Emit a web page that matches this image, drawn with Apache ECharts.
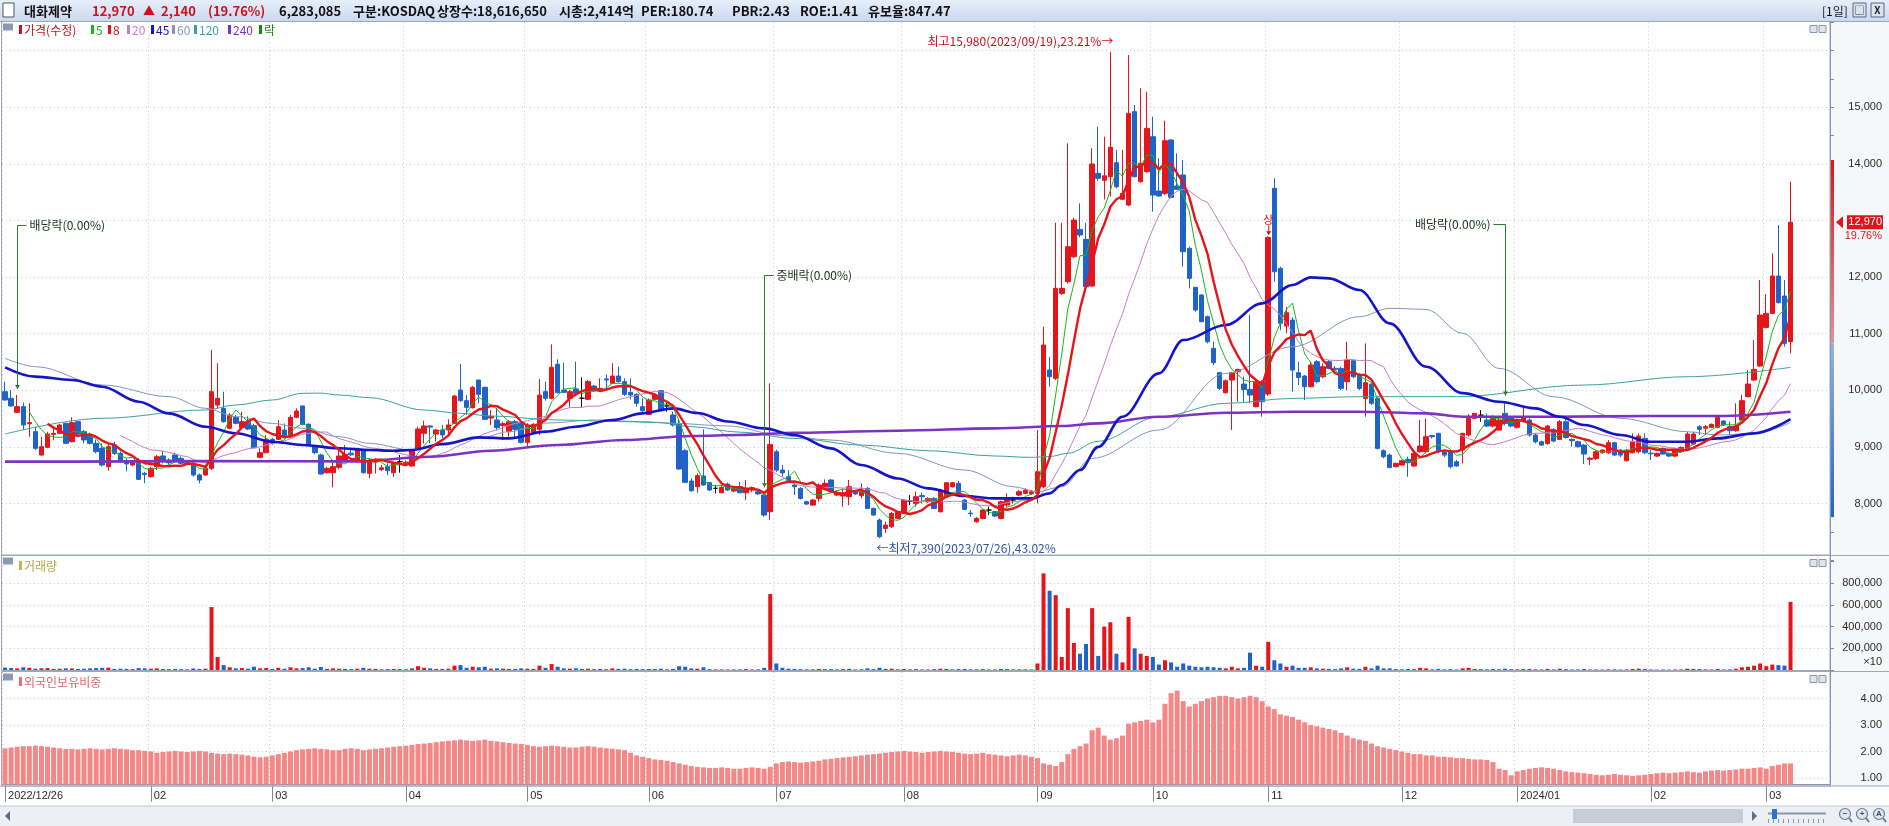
<!DOCTYPE html>
<html><head><meta charset="utf-8"><title>대화제약</title>
<script src="https://cdn.jsdelivr.net/npm/echarts@6/dist/echarts.min.js"></script>
<style>html,body{margin:0;padding:0;background:#fff;overflow:hidden}#chart{width:1889px;height:826px}</style>
</head><body><div id="chart"></div>
<script>
// ---------------- DATA ----------------
const startDate = '2022/12/26';
const holidays = ['2022/12/30','2023/01/23','2023/01/24','2023/03/01','2023/05/01','2023/05/05','2023/05/29','2023/06/06','2023/08/15','2023/09/28','2023/09/29','2023/10/02','2023/10/03','2023/10/09','2023/12/25','2023/12/29','2024/01/01','2024/02/09','2024/02/12'];
const padSlots = 6;

const openP = [
9976,9858,9610,9711,9410,9269,8857,8993,9220,9240,
9416,9092,9446,9269,9200,9063,8975,8651,9033,8886,
8739,8680,8739,8533,8474,8651,8840,8768,8857,8798,
8700,8710,8504,8504,8621,9740,9681,9328,9522,9340,
9446,9375,8816,8898,9134,9134,9298,9180,9522,9723,
9399,9004,8857,8545,8545,8640,8768,8890,8740,8945,
8533,8730,8600,8651,8545,8739,8710,8663,8975,9240,
9370,9228,9298,9298,9416,10005,9817,9693,10182,10052,
9510,9475,9380,9269,9446,9428,9080,9257,9310,9976,
9858,10459,10005,9858,10023,9860,9840,10076,9990,10200,
10123,10252,10153,9964,9929,9711,9575,9840,9993,9723,
9564,9405,8933,8398,8297,8486,8368,8268,8191,8344,
8220,8297,8191,8240,8208,8149,7855,8915,8591,8473,
8326,8267,8032,7972,8090,8267,8415,8149,8132,8120,
8208,8138,8267,7913,7707,7560,7590,7737,7855,8040,
8002,8140,8032,8090,7855,8120,8297,8356,8061,7830,
7678,7737,7884,7855,7737,7972,8061,8149,8179,8170,
8179,8297,10358,10211,11713,11919,12360,12843,12667,11842,
13833,13710,13774,14021,13374,13273,14923,13686,13862,14481,
13521,13480,14422,13610,13804,12508,11819,11683,11300,10741,
10311,9957,10181,10328,10110,10016,9710,10152,9934,13568,
12154,11136,11241,10311,10252,10063,10505,10240,10505,10390,
10387,10152,10523,10270,9857,10110,9857,8932,8856,8650,
8680,8780,8662,8915,8915,9200,9239,8915,8915,8738,
8944,9210,9504,9560,9474,9368,9298,9592,9520,9345,
9445,9474,9210,9091,9062,9310,9133,9445,9133,9091,
9032,8780,8797,8897,8897,9074,8944,8756,8897,8915,
9150,8890,8838,8974,8885,8838,8915,8956,9050,9356,
9330,9345,9345,9457,9356,9286,9474,9887,10181,10429,
11110,11359,12019,11665,10858];

const closeP = [
9829,9723,9711,9387,9430,8975,9004,9228,9240,9387,
9063,9428,9228,9122,9063,8916,8680,9004,8886,8739,
8700,8739,8427,8510,8621,8827,8740,8720,8768,8710,
8720,8504,8415,8621,9976,9858,9446,9564,9416,9446,
9316,8986,8898,9134,9063,9357,9180,9522,9634,9399,
9033,8898,8521,8621,8651,8840,8866,8860,8945,8545,
8739,8760,8630,8580,8710,8739,8730,8945,9316,9370,
9350,9298,9210,9387,9899,9817,9699,10052,9929,9487,
9540,9340,9410,9446,9310,9080,9387,9399,9917,9858,
10406,9958,9964,9976,9946,9860,10153,9990,10035,10182,
10252,10153,9929,9917,9770,9640,9829,9917,9652,9723,
9387,8610,8374,8226,8492,8327,8238,8268,8285,8238,
8270,8190,8267,8280,8170,7796,9044,8591,8540,8385,
8297,8090,7990,8061,8326,8356,8208,8190,8179,8297,
8170,8208,7913,7796,7413,7619,7825,7855,8061,8040,
8120,8120,8090,7913,8238,8367,8367,8179,7896,7820,
7737,7884,7884,7778,8032,8090,8061,8208,8238,8208,
8562,10800,10240,11801,11801,12537,13008,12743,11830,13998,
13745,13790,14292,13597,13480,14893,13774,14010,14628,13450,
13433,14410,13409,13550,12449,11978,11418,11212,10858,10488,
10034,10169,10311,10370,10016,9916,10152,9798,12702,12095,
11183,11371,10358,10228,10063,10446,10152,10417,10387,10370,
10034,10535,10240,10034,10134,9769,8974,8826,8638,8709,
8756,8720,8885,9015,9180,9180,8915,8856,8650,8662,
9239,9504,9592,9560,9368,9520,9474,9415,9368,9474,
9533,9210,9091,9032,9368,9103,9445,9168,9110,9003,
8874,8800,8915,8944,9074,8856,8856,8944,9091,9192,
8897,8880,8885,8874,8838,8956,8991,9227,9227,9310,
9356,9398,9521,9386,9286,9368,9816,10111,10370,11330,
11359,12019,11548,10830,12970];

const lowP = [
9817,9711,9605,9299,9180,8945,8845,8975,9120,9230,
9050,9080,9210,9063,9040,8886,8651,8580,8857,8720,
8570,8660,8415,8360,8460,8592,8710,8690,8720,8690,
8680,8474,8356,8490,8592,9682,9428,9310,9400,9330,
9300,8975,8800,8886,9040,9122,9150,9170,9505,9380,
9020,8870,8510,8530,8285,8603,8740,8840,8720,8530,
8445,8530,8570,8500,8470,8545,8690,8651,8957,9063,
9063,9092,9150,9210,9405,9800,9564,9681,9770,9475,
9387,9298,9122,9180,9150,9060,9004,9240,9210,9817,
9840,9946,9950,9700,9917,9700,9829,9976,9976,10005,
10111,10135,9900,9840,9711,9605,9564,9829,9640,9620,
9357,8592,8360,8209,8191,8315,8220,8180,8180,8220,
8200,8180,8061,8200,8150,7766,7707,8560,8473,8380,
8149,8070,7970,7960,8032,8238,8190,8130,7943,7972,
8150,8090,7900,7780,7390,7480,7570,7720,7840,7972,
7943,8002,8010,7900,7840,8100,8280,8160,7880,7766,
7660,7720,7796,7760,7720,7943,8000,8130,8160,8150,
8002,8267,10063,10180,11683,11889,12340,12700,11801,11830,
13700,13370,13420,13568,13360,13256,13762,13670,13845,13156,
13420,13450,13390,13540,12184,11801,11389,11200,10830,10446,
10004,9940,9298,9798,9780,9770,9698,9533,9900,11919,
11065,11006,9975,10093,9828,10051,10122,10211,10370,10328,
10004,10004,10211,10004,9533,9740,8956,8797,8620,8640,
8670,8473,8650,8897,8885,9150,8885,8820,8620,8650,
8709,9180,9490,9445,9356,9345,9280,9380,9345,9327,
9430,9180,9062,9015,9040,9080,9121,9150,9003,8990,
8697,8680,8768,8880,8880,8838,8820,8738,8885,8885,
8874,8768,8820,8860,8820,8820,8900,8944,9030,9210,
9210,9330,9330,9370,9210,9268,9462,9875,10170,10417,
11095,11347,11536,10770,10652];

const highP = [
10153,10005,9917,9782,9770,9357,9180,9269,9370,9400,
9430,9522,9450,9300,9250,9130,9063,9063,9092,8920,
8800,8760,8800,8560,8651,8857,8920,8800,8900,8830,
8740,8768,8533,8660,10712,10477,9976,9593,9560,9620,
9540,9405,8975,9210,9160,9475,9416,9564,9681,9730,
9420,9040,8880,8650,8768,8945,9033,8960,8975,8960,
8798,8800,8680,8710,8740,8857,8760,8960,9357,9463,
9387,9316,9387,9487,9917,10465,9917,10076,10182,10064,
9652,9682,9446,9475,9475,9440,9416,9420,10200,10153,
10812,10547,10490,10005,10506,10229,10182,10094,10210,10280,
10477,10417,10211,10211,9946,9858,9858,9946,10005,9782,
9622,9475,8960,8445,8533,9310,8380,8327,8327,8370,
8297,8380,8415,8300,8240,8179,10122,8950,8680,8591,
8356,8290,8050,8080,8356,8426,8430,8230,8267,8415,
8240,8356,8290,7930,7737,7678,7850,7870,8080,8149,
8208,8190,8110,8110,8260,8380,8380,8400,8080,7884,
7760,7900,7943,7870,8050,8179,8120,8240,8270,8240,
9298,11124,10593,12961,12961,14363,13050,13303,12961,14275,
14658,14481,15980,14245,14245,15924,15040,15335,15276,14834,
14098,14764,14434,14186,14069,12537,11830,11700,11320,10858,
10328,10190,10328,10380,10240,11330,10181,10181,12720,13745,
12184,11477,11289,10505,10270,10505,10535,10476,10535,10429,
10417,10858,10535,10299,10829,10134,9887,8956,8885,8720,
8770,8827,8897,9474,9504,9210,9250,8950,8930,8770,
9250,9580,9600,9650,9592,9563,9500,9800,9545,9504,
9710,9504,9239,9110,9390,9330,9474,9533,9150,9110,
9050,8827,8944,8960,9121,9091,8960,8960,9239,9239,
9239,8944,8900,8990,8900,8970,9010,9268,9268,9386,
9386,9415,9545,9470,9445,9769,9916,10358,10888,11948,
11701,12419,12920,11948,13686];

// volume, in the panel's own units (axis labelled x10)
const volume = [
22000,18000,15000,25000,20000,12000,15000,18000,10000,12000,
15000,14000,10000,12000,15000,18000,20000,22000,10000,12000,
10000,8000,18000,15000,12000,15000,10000,8000,10000,8000,
6000,14000,10000,12000,580000,120000,45000,25000,15000,18000,
12000,30000,15000,18000,10000,20000,12000,25000,15000,18000,
25000,12000,28000,10000,15000,12000,10000,8000,12000,20000,
12000,10000,6000,8000,10000,8000,6000,15000,35000,20000,
15000,10000,10000,12000,40000,45000,20000,30000,25000,30000,
12000,15000,12000,10000,10000,15000,12000,10000,40000,20000,
55000,30000,15000,12000,15000,10000,12000,8000,10000,8000,
15000,10000,12000,8000,10000,8000,10000,8000,12000,6000,
10000,35000,30000,15000,12000,25000,8000,6000,6000,5000,
5000,6000,8000,5000,6000,20000,700000,60000,20000,12000,
10000,8000,6000,6000,10000,8000,8000,5000,8000,10000,
5000,6000,15000,8000,20000,10000,12000,6000,10000,6000,
8000,5000,5000,8000,12000,10000,6000,8000,10000,6000,
6000,8000,5000,5000,10000,8000,5000,6000,6000,5000,
60000,890000,730000,690000,120000,570000,250000,150000,240000,570000,
130000,400000,440000,150000,70000,490000,200000,150000,130000,120000,
50000,90000,70000,30000,60000,40000,30000,25000,30000,25000,
20000,15000,30000,15000,20000,160000,40000,30000,260000,90000,
60000,30000,40000,20000,20000,25000,15000,12000,10000,8000,
15000,25000,12000,10000,30000,15000,40000,15000,15000,8000,
6000,10000,8000,20000,15000,6000,10000,6000,8000,5000,
15000,20000,10000,8000,6000,8000,6000,12000,8000,6000,
8000,10000,6000,5000,10000,6000,12000,8000,5000,5000,
10000,5000,5000,4000,6000,6000,4000,5000,10000,12000,
8000,5000,4000,5000,4000,5000,5000,12000,10000,8000,
6000,5000,10000,5000,6000,12000,25000,30000,40000,60000,
35000,50000,45000,40000,628309];

// foreign ownership ratio (%)
const foreignPct = [
2.12,2.15,2.18,2.2,2.2,2.22,2.2,2.18,2.15,2.12,
2.1,2.1,2.08,2.1,2.12,2.1,2.08,2.1,2.12,2.1,
2.08,2.05,2.05,2.02,2.0,
1.95,1.98,2.0,2.02,2.0,1.98,2.0,2.02,2.0,1.95,1.92,1.9,1.92,1.9,1.88,1.85,
1.8,1.78,1.8,1.85,1.9,1.95,
2.0,2.05,2.08,2.1,2.12,2.1,2.08,2.05,2.05,2.1,2.12,2.1,2.05,2.08,2.1,2.12,2.15,2.18,2.2,2.22,2.25,2.28,
2.3,2.32,2.35,2.38,2.4,2.42,2.45,2.42,2.4,2.42,2.45,2.4,2.38,2.35,2.32,2.3,2.28,2.25,
2.2,2.18,2.2,2.22,2.2,2.18,2.15,2.15,2.18,2.2,2.18,2.15,2.12,2.1,2.08,2.05,
1.95,1.85,1.8,1.75,1.7,1.68,1.65,1.6,1.55,1.5,1.45,
1.42,1.4,1.38,1.38,1.4,1.38,1.35,1.35,1.38,1.4,1.38,1.35,1.42,
1.55,1.6,1.62,1.6,1.58,1.6,1.62,1.65,
1.7,1.72,1.75,1.78,1.8,1.82,1.85,1.88,1.9,1.92,1.95,1.98,2.0,2.02,2.0,1.98,1.95,1.98,2.0,2.02,2.0,1.98,1.95,1.92,1.9,1.92,1.95,1.9,1.88,1.85,1.82,1.85,1.88,1.85,1.8,
1.75,1.55,1.5,1.45,1.6,1.9,2.1,2.2,2.3,
2.8,2.9,2.6,2.45,2.5,2.6,
3.05,3.1,3.15,3.2,3.1,3.2,
3.8,4.2,4.3,3.9,3.7,3.8,3.9,
4.0,4.05,4.1,4.1,4.05,4.0,4.05,4.1,4.05,
3.9,3.7,3.6,3.4,3.35,3.3,3.2,3.1,
3.0,2.95,2.9,2.85,2.8,2.7,2.6,2.5,2.45,2.4,
2.3,2.2,2.15,2.1,2.05,2.0,
1.95,1.9,1.9,1.85,1.85,1.8,1.8,1.78,1.75,1.75,1.72,1.7,1.7,1.68,1.6,
1.35,1.3,1.1,1.25,1.3,
1.35,1.38,1.4,1.38,1.35,1.3,
1.25,1.22,1.2,1.18,1.15,1.12,1.1,1.12,1.15,1.12,1.1,1.08,1.1,1.12,1.15,1.18,1.2,1.18,1.2,1.22,1.25,1.22,1.2,1.25,1.28,1.3,1.28,1.3,
1.32,1.35,1.35,1.38,1.4,1.35,1.45,1.5,1.55,1.55];

// long moving averages: [candle index, value]
const ma45Pts = [[0,10406],[5,10241],[11,10182],[16,10064],[22,9799],[27,9593],[33,9357],[38,9240],[44,9092],[49,9034],[55,8975],[60,8945],[64,8933],[67,8945],[72,9051],[78,9169],[83,9151],[89,9269],[94,9357],[100,9475],[105,9593],[110,9681],[114,9600],[119,9450],[125,9327],[130,9209],[136,8974],[141,8679],[147,8443],[152,8267],[158,8132],[163,8090],[169,8090],[172,8179],[174,8326],[177,8591],[180,9000],[184,9533],[190,10299],[194,10888],[201,11153],[207,11536],[212,11860],[215,11995],[218,11978],[223,11772],[228,11183],[234,10417],[240,9950],[246,9798],[252,9681],[256,9533],[260,9386],[266,9209],[271,9091],[277,9091],[282,9150],[288,9239],[294,9490]];
const ma60Pts = [[0,10565],[5,10418],[16,10094],[27,9888],[33,9682],[38,9534],[44,9416],[49,9328],[55,9181],[60,9063],[67,8945],[72,9033],[78,9151],[83,9269],[89,9420],[97,9475],[105,9446],[110,9416],[119,9370],[128,9200],[136,9121],[147,8886],[158,8591],[166,8297],[170,8208],[174,8297],[179,8797],[190,9298],[201,10299],[212,10770],[223,11300],[228,11448],[234,11430],[240,11006],[246,10387],[255,9887],[266,9504],[277,9268],[282,9210],[288,9239],[294,9430]];
const ma120Pts = [[0,9228],[16,9505],[33,9652],[38,9740],[44,9829],[49,9946],[52,9950],[55,9917],[60,9870],[69,9652],[75,9593],[80,9546],[91,9475],[102,9446],[108,9428],[113,9357],[121,9260],[130,9150],[141,9033],[152,8933],[163,8839],[169,8815],[172,8830],[175,8886],[180,9100],[190,9533],[201,9769],[212,9857],[223,9887],[239,9887],[260,10093],[277,10240],[294,10405]];
const ma240Pts = [[0,8739],[11,8739],[33,8750],[58,8745],[70,8827],[80,8933],[91,9034],[102,9122],[113,9193],[121,9210],[130,9250],[147,9286],[163,9327],[174,9368],[180,9415],[190,9533],[201,9604],[212,9622],[223,9622],[234,9592],[240,9533],[255,9533],[271,9545],[282,9545],[294,9622]];

const maPeriods = [5, 8, 20, 45, 60, 120, 240];
const rangeBarVals = [14070, 10830, 7760];
const exDivMarks = [
  {idx: 2, label: '배당락(0.00%)', topPrice: 12920, side: 'right'},
  {idx: 125, label: '중배락(0.00%)', topPrice: 12040, side: 'right'},
  {idx: 247, label: '배당락(0.00%)', topPrice: 12940, side: 'left'}
];
const limitUpIdx = 208;
const headerStats = {name: '대화제약', volumeText: '6,283,085', market: '구분:KOSDAQ', shares: '상장수:18,616,650', cap: '시총:2,414억', per: 'PER:180.74', pbr: 'PBR:2.43', roe: 'ROE:1.41', reserve: '유보율:847.47'};
const priceTicks = [8000, 9000, 10000, 11000, 12000, 13000, 14000, 15000];
const volTicks = [200000, 400000, 600000, 800000];
const pctTicks = [1, 2, 3, 4];

// ---------------- BUILD ----------------
const N = openP.length;
function pad2(n){return n<10?'0'+n:''+n;}
function fmtD(d){return d.getUTCFullYear()+'/'+pad2(d.getUTCMonth()+1)+'/'+pad2(d.getUTCDate());}
const dates = (function(){
  const out=[]; const p=startDate.split('/').map(Number);
  let d=new Date(Date.UTC(p[0],p[1]-1,p[2]));
  while(out.length<N){ const wd=d.getUTCDay(); const s=fmtD(d);
    if(wd!==0&&wd!==6&&holidays.indexOf(s)<0) out.push(s);
    d=new Date(d.getTime()+86400000);}
  return out;})();
const categories = dates.concat(new Array(padSlots).fill(''));
const labelAt = {}; let lastLab=-100;
for(let i=0;i<N;i++){
  const m=dates[i].slice(5,7);
  const start = i===0 || dates[i-1].slice(5,7)!==m;
  if(start && (i===0 || i-lastLab>10)){
    labelAt[i] = i===0 ? dates[i] : (m==='01' ? dates[i].slice(0,7) : m); lastLab=i;
  }
}
const isLab = (idx)=> labelAt[idx]!==undefined;

const UP='#e5151c', DN='#1f63c9';
const candleData = openP.map((o,i)=>{
  const it={value:[o,closeP[i],lowP[i],highP[i]]};
  if(o===closeP[i]) it.itemStyle={color:'#111',color0:'#111',borderColor:'#111',borderColor0:'#111'};
  return it;
});
function sma(n){const out=[];let s=0;for(let i=0;i<N;i++){s+=closeP[i];if(i>=n)s-=closeP[i-n];out.push(i>=n-1?Math.round(s/n):null);}return out;}
function sparse(pts){const a=new Array(N).fill(null);pts.forEach(([i,v])=>{a[Math.min(i,N-1)]=v;});return a;}
const volData = volume.map((v,i)=>({value:v,itemStyle:{color: closeP[i]>=openP[i]?UP:DN}}));

const maColors = {5:'#18b818',8:'#e5151c',20:'#c47ccc',45:'#1414c8',60:'#8494bc',120:'#3aa39b',240:'#7d32c4'};
function maSeries(name,data,color,width,smooth){
  return {name,type:'line',xAxisIndex:0,yAxisIndex:0,data,symbol:'none',showSymbol:false,connectNulls:true,
    smooth:smooth,smoothMonotone:'x',lineStyle:{color,width},z:3,silent:true,animation:false};
}
const GRIDC='#c4c9d2';
const DOT=[1,3];
const gridLineMain = Array.from({length:20},(_,k)=>(k%2===0&&k>0)?GRIDC:'rgba(0,0,0,0)');
const gridLineVol = [0,200000,400000,600000,800000,1000000].map(v=>volTicks.indexOf(v)>=0?GRIDC:'rgba(0,0,0,0)');
const gridLinePct = Array.from({length:18},(_,k)=>{const v=0.75+0.25*k;return pctTicks.some(t=>Math.abs(t-v)<1e-6)?GRIDC:'rgba(0,0,0,0)';});
const numFmt = v=>Math.round(v).toLocaleString('en-US');
const axisFont = {color:'#2a2a2a',fontSize:11,fontFamily:'Liberation Sans, Arial, sans-serif'};

const xBase = (gi,showLab)=>({
  type:'category',gridIndex:gi,data:categories,boundaryGap:true,
  axisLine:{show:showLab,lineStyle:{color:'#8a96aa'}},
  axisTick:{show:showLab,alignWithLabel:true,interval:(i)=>isLab(i),length:17,lineStyle:{color:'#7d889c'}},
  axisLabel:{show:showLab,interval:(i)=>isLab(i),formatter:(v,i)=>labelAt[i]||'',align:'left',margin:6,padding:[0,0,0,3],...axisFont},
  splitLine:{show:true,interval:(i)=>isLab(i),lineStyle:{color:GRIDC,type:DOT}}
});

const chart = echarts.init(document.getElementById('chart'),null,{renderer:'canvas',width:1889,height:826});
chart.setOption({
  animation:false,
  backgroundColor:'#ffffff',
  grid:[
    {left:2,right:59,top:22.4,height:537.7,outerBoundsMode:'none'},
    {left:2,right:59,top:561.5,height:108.5,outerBoundsMode:'none'},
    {left:2,right:59,top:672,height:112.6,outerBoundsMode:'none'}
  ],
  xAxis:[xBase(0,false),xBase(1,false),xBase(2,true)],
  yAxis:[
    {type:'value',gridIndex:0,position:'right',min:7000,max:16500,interval:500,scale:true,
     axisLine:{show:false},axisTick:{show:true,length:4,lineStyle:{color:'#7d889c'}},
     axisLabel:{align:'right',margin:52,formatter:v=>priceTicks.indexOf(v)>=0?numFmt(v):'',...axisFont},
     splitLine:{show:true,lineStyle:{color:gridLineMain,type:DOT}}},
    {type:'value',gridIndex:1,position:'right',min:0,max:1000000,interval:200000,
     axisLine:{show:false},axisTick:{show:true,length:4,lineStyle:{color:'#7d889c'}},
     axisLabel:{align:'right',margin:52,formatter:v=>volTicks.indexOf(v)>=0?numFmt(v):'',...axisFont},
     splitLine:{show:true,lineStyle:{color:gridLineVol,type:DOT}}},
    {type:'value',gridIndex:2,position:'right',min:0.75,max:5,interval:0.25,
     axisLine:{show:false},axisTick:{show:false},
     axisLabel:{align:'right',margin:52,formatter:v=>pctTicks.some(t=>Math.abs(t-v)<1e-6)?v.toFixed(2):'',...axisFont},
     splitLine:{show:true,lineStyle:{color:gridLinePct,type:DOT}}}
  ],
  series:[
    {name:'가격',type:'candlestick',xAxisIndex:0,yAxisIndex:0,data:candleData,barWidth:5,z:2,silent:true,
     itemStyle:{color:UP,color0:DN,borderColor:UP,borderColor0:DN,borderWidth:1}},
    maSeries('MA5',sma(5),maColors[5],1,false),
    maSeries('MA20',sma(20),maColors[20],1,false),
    maSeries('MA60',sparse(ma60Pts),maColors[60],1,0.35),
    maSeries('MA120',sparse(ma120Pts),maColors[120],1,0.35),
    maSeries('MA240',sparse(ma240Pts),maColors[240],2.6,0.35),
    maSeries('MA45',sparse(ma45Pts),maColors[45],2.6,0.35),
    maSeries('MA8',sma(8),maColors[8],2.4,false),
    {name:'거래량',type:'bar',xAxisIndex:1,yAxisIndex:1,data:volData,barWidth:4,silent:true},
    {name:'외국인보유비중',type:'bar',xAxisIndex:2,yAxisIndex:2,data:foreignPct,barWidth:5,silent:true,
     itemStyle:{color:'#f48888'}}
  ]
});

// ---------------- DECORATION ----------------
const G=[];
const KR='"Noto Sans CJK KR", "Noto Sans", sans-serif';
function txt(x,y,text,fill,font,align,z){G.push({type:'text',z:z||60,silent:true,style:{x,y,text,fill,font,align:align||'left',textAlign:align||'left',verticalAlign:'middle',textVerticalAlign:'middle'}});}
function rect(x,y,w,h,style,z){G.push({type:'rect',z:(z===undefined?-10:z),silent:true,shape:{x,y,width:w,height:h},style});}
function pline(points,stroke,w,z){G.push({type:'polyline',z:z||55,silent:true,shape:{points},style:{stroke,lineWidth:w||1,fill:null}});}
function poly(points,fill,z){G.push({type:'polygon',z:z||55,silent:true,shape:{points},style:{fill}});}
const P=(i,v)=>chart.convertToPixel({xAxisIndex:0,yAxisIndex:0},[i,v]);

// backgrounds
rect(0,0,1889,21,{fill:new echarts.graphic.LinearGradient(0,0,0,1,[{offset:0,color:'#e6eefa'},{offset:1,color:'#cbd9ef'}])},-10);
rect(1830,21,59,765,{fill:'#f6f7f9'},-10);
rect(0,806,1889,20,{fill:'#eceff4'},-10);
pline([[0,21.5],[1889,21.5]],'#8e9cb6',1,40);
// panel borders
[[21.5,533.5],[555.5,115],[671.5,114.5]].forEach(([y,h])=>{
  G.push({type:'rect',z:40,silent:true,shape:{x:1.5,y,width:1828.5,height:h},style:{fill:null,stroke:'#9ca7ba',lineWidth:1}});
  pline([[1830,y],[1889,y]],'#9ca7ba',1,40);
  rect(1810,y+4,7,7,{fill:'#dfe4ec',stroke:'#8a98ad',lineWidth:1},45);
  rect(1819,y+4,7,7,{fill:'#dfe4ec',stroke:'#8a98ad',lineWidth:1},45);
  rect(3,y+2,10,7,{fill:'#8a9ab3'},45);
});
pline([[0,786],[1889,786]],'#9ca7ba',1,40);
pline([[0,806],[1889,806]],'#c3cad6',1,40);

// header
rect(3,3,11,14,{fill:'#ffffff',stroke:'#555',lineWidth:1},20);
const HF='bold 13px '+KR;
const last=N-1, chg=closeP[last]-closeP[last-1], pct=chg/closeP[last-1]*100;
txt(24,11,headerStats.name,'#111',HF);
txt(92,11,numFmt(closeP[last]),'#d0101a',HF);
txt(143,11,chg>=0?'▲':'▼','#d0101a','bold 12px '+KR);
txt(161,11,numFmt(Math.abs(chg)),'#d0101a',HF);
txt(208,11,'('+pct.toFixed(2)+'%)','#d0101a',HF);
txt(279,11,headerStats.volumeText,'#111',HF);
txt(353,11,headerStats.market,'#111',HF);
txt(437,11,headerStats.shares,'#111',HF);
txt(559,11,headerStats.cap,'#111',HF);
txt(641,11,headerStats.per,'#111',HF);
txt(732,11,headerStats.pbr,'#111',HF);
txt(800,11,headerStats.roe,'#111',HF);
txt(868,11,headerStats.reserve,'#111',HF);
txt(1822,11,'[1일]','#111','12px '+KR);
rect(1853,3,13,14,{fill:'#d9e2ef',stroke:'#5a6780',lineWidth:1},20);
rect(1871,3,13,14,{fill:'#d9e2ef',stroke:'#5a6780',lineWidth:1},20);
txt(1859.5,10.5,'□','#223','10px '+KR,'center',30);
txt(1877.5,10.5,'X','#223','bold 10px '+KR,'center',30);

// legend
const legendItems=[['가격(수정)','#d0101a',19],[String(maPeriods[0]),maColors[5],91],[String(maPeriods[1]),maColors[8],108],[String(maPeriods[2]),maColors[20],127],[String(maPeriods[3]),maColors[45],151],[String(maPeriods[4]),maColors[60],172],[String(maPeriods[5]),maColors[120],194],[String(maPeriods[6]),maColors[240],228],['락','#168a16',259]];
legendItems.forEach(([t,c,x])=>{rect(x,25,3,9,{fill:c},60);txt(x+5,30,t,c,'12px '+KR);});
rect(19,561,3,9,{fill:'#c9b548'},60); txt(24,566,'거래량','#b9a442','12px '+KR);
rect(19,677,3,9,{fill:'#ee7070'},60); txt(24,682,'외국인보유비중','#e06666','12px '+KR);
txt(1882,662,'×10','#2a2a2a','11px Liberation Sans, Arial','right');

// right axis line + range bar
pline([[1830.5,21],[1830.5,786]],'#8a96aa',1,41);
const yTop=P(0,rangeBarVals[0])[1], yMid=P(0,rangeBarVals[1])[1], yBot=P(0,rangeBarVals[2])[1];
rect(1831,yTop,3,yMid-yTop,{fill:new echarts.graphic.LinearGradient(0,0,0,1,[{offset:0,color:'#e0141c'},{offset:1,color:'#f08c90'}])},42);
rect(1831,yMid,3,yBot-yMid,{fill:new echarts.graphic.LinearGradient(0,0,0,1,[{offset:0,color:'#8fb4e8'},{offset:1,color:'#1f63c9'}])},42);
// last price tag
const yc=P(0,closeP[last])[1];
poly([[1836,yc],[1843,yc-6],[1843,yc+6]],'#e0141c',62);
rect(1847,yc-7,36,14,{fill:'#e0141c'},61);
txt(1882,yc,numFmt(closeP[last]),'#ffffff','11px Liberation Sans, Arial','right',63);
txt(1882,yc+14,pct.toFixed(2)+'%','#e0141c','11px Liberation Sans, Arial','right',63);

// ex-dividend markers
exDivMarks.forEach(m=>{
  const x=Math.round(P(m.idx,0)[0])+0.5; const yt=Math.round(P(m.idx,m.topPrice)[1])+0.5;
  const yb=P(m.idx,highP[m.idx])[1]-6;
  if(m.side==='right'){pline([[x+9,yt],[x,yt],[x,yb]],'#2f7a2f',1);txt(x+12,yt,m.label,'#1e2e1e','12px '+KR);}
  else{pline([[x-12,yt],[x,yt],[x,yb]],'#2f7a2f',1);txt(x-15,yt,m.label,'#1e2e1e','12px '+KR,'right');}
  poly([[x-2.5,yb-4],[x+2.5,yb-4],[x,yb]],'#2f7a2f');
});
// highest / lowest labels
let hi=0,lo=0; for(let i=1;i<N;i++){if(highP[i]>highP[hi])hi=i; if(lowP[i]<lowP[lo])lo=i;}
const hp=P(hi,highP[hi]); const lp=P(lo,lowP[lo]);
const hiPct=((highP[hi]-closeP[last])/closeP[last]*100).toFixed(2);
const loPct=((closeP[last]-lowP[lo])/closeP[last]*100).toFixed(2);
txt(hp[0]+3,hp[1]-10,'최고'+numFmt(highP[hi])+'('+dates[hi]+'),'+hiPct+'%→','#c8101a','12px '+KR,'right');
txt(lp[0]-3,lp[1]+10,'←최저'+numFmt(lowP[lo])+'('+dates[lo]+'),'+loPct+'%','#2f55a8','12px '+KR,'left');
// upper-limit mark
const up=P(limitUpIdx,highP[limitUpIdx]);
txt(up[0],up[1]-17,'상','#d0101a','11px '+KR,'center');
pline([[up[0]+0.5,up[1]-11],[up[0]+0.5,up[1]-3]],'#d0101a',1);
poly([[up[0]-2,up[1]-5],[up[0]+3,up[1]-5],[up[0]+0.5,up[1]-1]],'#d0101a');

// bottom scroll strip
poly([[5,816],[10,811],[10,821]],'#5d6c85',60);
rect(1573,809,170,14,{fill:'#c7ccd5'},50);
poly([[1752,811],[1757,816],[1752,821]],'#5d6c85',60);
pline([[1768,813.5],[1826,813.5]],'#8c95a3',2,60);
rect(1772,809,5,10,{fill:'#2f6fd0'},61);
for(let k=0;k<12;k++) pline([[1768+k*5+0.5,819],[1768+k*5+0.5,823]],'#8c95a3',1,60);
[1845,1862,1879].forEach((cx,k)=>{
  G.push({type:'circle',z:60,silent:true,shape:{cx,cy:814,r:5.5},style:{fill:'#dfe5ee',stroke:'#6e7c92',lineWidth:1.2}});
  pline([[cx+4,818],[cx+7,822]],'#6e7c92',2,60);
  txt(cx,814,k===0?'−':(k===1?'+':'A'),'#3d4a60','bold 8px Liberation Sans','center',61);
});

chart.setOption({graphic:{elements:G}});
</script>
</body></html>
